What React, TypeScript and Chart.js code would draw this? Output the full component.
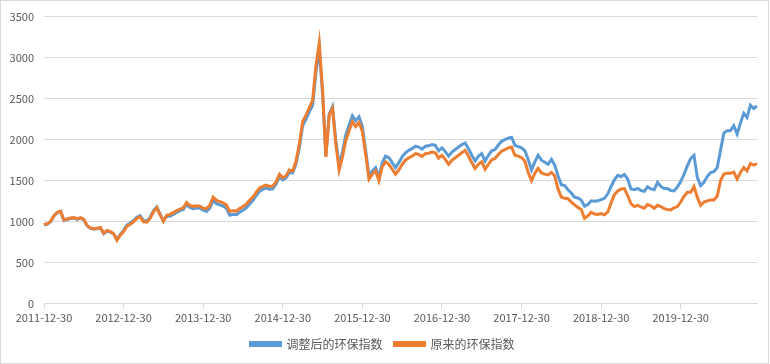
import React, { useEffect, useRef } from "react";
import { Chart, registerables } from "chart.js";

Chart.register(...registerables);

// Half-monthly observation points: 2011-12-30, then each month's 15th and 30th (28th in Feb)
const startLabel = "2011-12-30";
const years = [2012, 2013, 2014, 2015, 2016, 2017, 2018, 2019, 2020];
const days = ["15", "30"];
const lastLabel = "2020-12-15";

const yTicks = [0, 500, 1000, 1500, 2000, 2500, 3000, 3500];

const originalName = "原来的环保指数";
const adjustedName = "调整后的环保指数";

const originalIndex = [
  965, 975, 1005, 1075, 1115, 1130, 1020, 1035, 1045, 1050, 1035, 1050, 1030, 955, 925, 915, 920, 930, 860, 895, 880, 855, 775, 835, 880,
  945, 970, 1000, 1040, 1060, 1000, 995, 1040, 1120, 1170, 1085, 1005, 1080, 1090, 1110, 1135, 1155, 1170, 1235, 1200, 1185, 1195, 1190, 1165,
  1160, 1200, 1300, 1260, 1245, 1230, 1205, 1125, 1135, 1130, 1160, 1185, 1215, 1260, 1300, 1360, 1410, 1430, 1447, 1430, 1435, 1490, 1580, 1535,
  1560, 1630, 1620, 1740, 1950, 2220, 2300, 2390, 2480, 2900, 3180, 2600, 1790, 2300, 2380, 1950, 1630, 1790, 1990, 2110, 2220, 2160, 2210, 2100,
  1820, 1520, 1580, 1620, 1500, 1670, 1730, 1700, 1640, 1580, 1630, 1700, 1750, 1780, 1800, 1830, 1820, 1795, 1830, 1835, 1850, 1840, 1775, 1810,
  1760, 1700, 1750, 1780, 1810, 1840, 1870, 1800, 1720, 1650, 1700, 1730, 1640, 1700, 1755, 1770, 1820, 1860, 1880, 1900, 1910, 1810, 1800, 1780,
  1740, 1600, 1500, 1590, 1650, 1595, 1580, 1570, 1600, 1560, 1400, 1300, 1285, 1280, 1240, 1205, 1175, 1150, 1040, 1070, 1115, 1095, 1090, 1100,
  1085, 1120, 1230, 1330, 1375, 1400, 1405, 1320, 1220, 1185, 1200, 1180, 1165, 1210, 1195, 1165, 1200, 1185, 1160, 1150, 1145, 1170, 1185, 1240,
  1310, 1360, 1360, 1430, 1300, 1200, 1240, 1255, 1265, 1265, 1310, 1500, 1580, 1590, 1590, 1605, 1520, 1600, 1660, 1620, 1710, 1690, 1710,
];

const adjustedIndex = [
  960, 970, 1000, 1070, 1110, 1125, 1015, 1030, 1040, 1045, 1030, 1045, 1025, 950, 920, 910, 915, 925, 855, 890, 875, 850, 780, 845, 895,
  960, 985, 1015, 1055, 1075, 1015, 1010, 1055, 1135, 1180, 1095, 1010, 1065, 1070, 1090, 1115, 1135, 1150, 1210, 1175, 1160, 1170, 1165, 1140,
  1125, 1165, 1260, 1220, 1205, 1190, 1165, 1080, 1090, 1085, 1115, 1140, 1170, 1215, 1260, 1320, 1370, 1395, 1410, 1395, 1400, 1460, 1550, 1510,
  1535, 1600, 1595, 1710, 1900, 2170, 2250, 2340, 2420, 2820, 3110, 2560, 1800, 2310, 2400, 1990, 1690, 1850, 2060, 2180, 2290, 2230, 2280, 2160,
  1870, 1560, 1620, 1660, 1540, 1720, 1800, 1780, 1720, 1660, 1720, 1790, 1840, 1870, 1890, 1920, 1910, 1885, 1920, 1925, 1940, 1930, 1865, 1900,
  1855, 1800, 1850, 1880, 1910, 1940, 1960, 1890, 1810, 1740, 1800, 1830, 1740, 1810, 1865, 1880, 1935, 1980, 2000, 2020, 2030, 1930, 1915, 1900,
  1865, 1760, 1630, 1730, 1810, 1750, 1725, 1700, 1760, 1690, 1560, 1450, 1440, 1390, 1350, 1300, 1290, 1265, 1190, 1210, 1255, 1250, 1255, 1270,
  1285, 1340, 1430, 1510, 1565, 1550, 1575, 1520, 1400, 1390, 1405, 1380, 1370, 1425, 1400, 1390, 1480, 1430, 1405, 1405, 1380, 1375, 1425, 1490,
  1580, 1680, 1770, 1810, 1540, 1440, 1480, 1550, 1600, 1610, 1660, 1870, 2080, 2110, 2110, 2170, 2070, 2200, 2320, 2270, 2420, 2380, 2410,
];

function buildLabels(): string[] {
  const out: string[] = [startLabel];
  for (const y of years) {
    for (let m = 1; m <= 12; m++) {
      const mm = String(m).padStart(2, "0");
      for (const d of days) {
        const dd = m === 2 && d === "30" ? "28" : d;
        const lab = `${y}-${mm}-${dd}`;
        out.push(lab);
        if (lab === lastLabel) return out;
      }
    }
  }
  return out;
}

const labels = buildLabels();
const isYearTick = (i: number) => (labels[i] || "").endsWith("-12-30");

export default function App() {
  const canvasRef = useRef<HTMLCanvasElement | null>(null);

  useEffect(() => {
    if (!canvasRef.current) return;
    Chart.defaults.font.family = '"Noto Sans CJK SC", "Noto Sans", sans-serif';
    const chart = new Chart(canvasRef.current, {
      type: "line",
      data: {
        labels,
        datasets: [
          {
            label: originalName,
            data: originalIndex,
            borderColor: "#ED7D31",
            backgroundColor: "#ED7D31",
            borderWidth: 3,
            pointRadius: 0,
            tension: 0,
          },
          {
            label: adjustedName,
            data: adjustedIndex,
            borderColor: "#5B9BD5",
            backgroundColor: "#5B9BD5",
            borderWidth: 3,
            pointRadius: 0,
            tension: 0,
          },
        ],
      },
      options: {
        responsive: false,
        animation: false,
        layout: { padding: { left: 8, right: 13, top: 13, bottom: 4 } },
        plugins: {
          tooltip: { enabled: false },
          legend: {
            position: "bottom",
            labels: {
              boxWidth: 30,
              boxHeight: 3,
              padding: 12,
              color: "#595959",
              font: { size: 12 },
              sort: (a: any, b: any) => b.datasetIndex - a.datasetIndex,
            },
          },
        },
        scales: {
          x: {
            type: "category",
            offset: false,
            grid: {
              drawOnChartArea: false,
              drawTicks: true,
              tickLength: 5,
              color: (ctx: any) => (isYearTick(ctx.index) ? "#d9d9d9" : "rgba(0,0,0,0)"),
            },
            border: { display: true, color: "#d9d9d9" },
            ticks: {
              autoSkip: false,
              maxRotation: 0,
              minRotation: 0,
              padding: 2,
              color: "#595959",
              font: { size: 11 },
              callback: (_v: any, i: number) => (isYearTick(i) ? labels[i] : ""),
            },
          },
          y: {
            min: 0,
            max: 3500,
            afterBuildTicks: (scale: any) => {
              scale.ticks = yTicks.map((v) => ({ value: v }));
            },
            afterFit: (scale: any) => {
              scale.width = 36;
            },
            grid: { color: "#d9d9d9", drawTicks: false },
            border: { display: false },
            ticks: {
              padding: 10,
              color: "#595959",
              font: { size: 11 },
              callback: (v: any) => String(v),
            },
          },
        },
      },
    });
    return () => chart.destroy();
  }, []);

  return (
    <div style={{ position: "fixed", left: 0, top: 0, width: 770, height: 364, background: "#fff" }}>
      <canvas ref={canvasRef} width={770} height={364} style={{ position: "absolute", left: 0, top: 0 }} />
      <div
        style={{
          position: "absolute",
          left: 0,
          top: 0,
          width: 769,
          height: 364,
          boxSizing: "border-box",
          border: "1px solid #d9d9d9",
          pointerEvents: "none",
        }}
      />
    </div>
  );
}
